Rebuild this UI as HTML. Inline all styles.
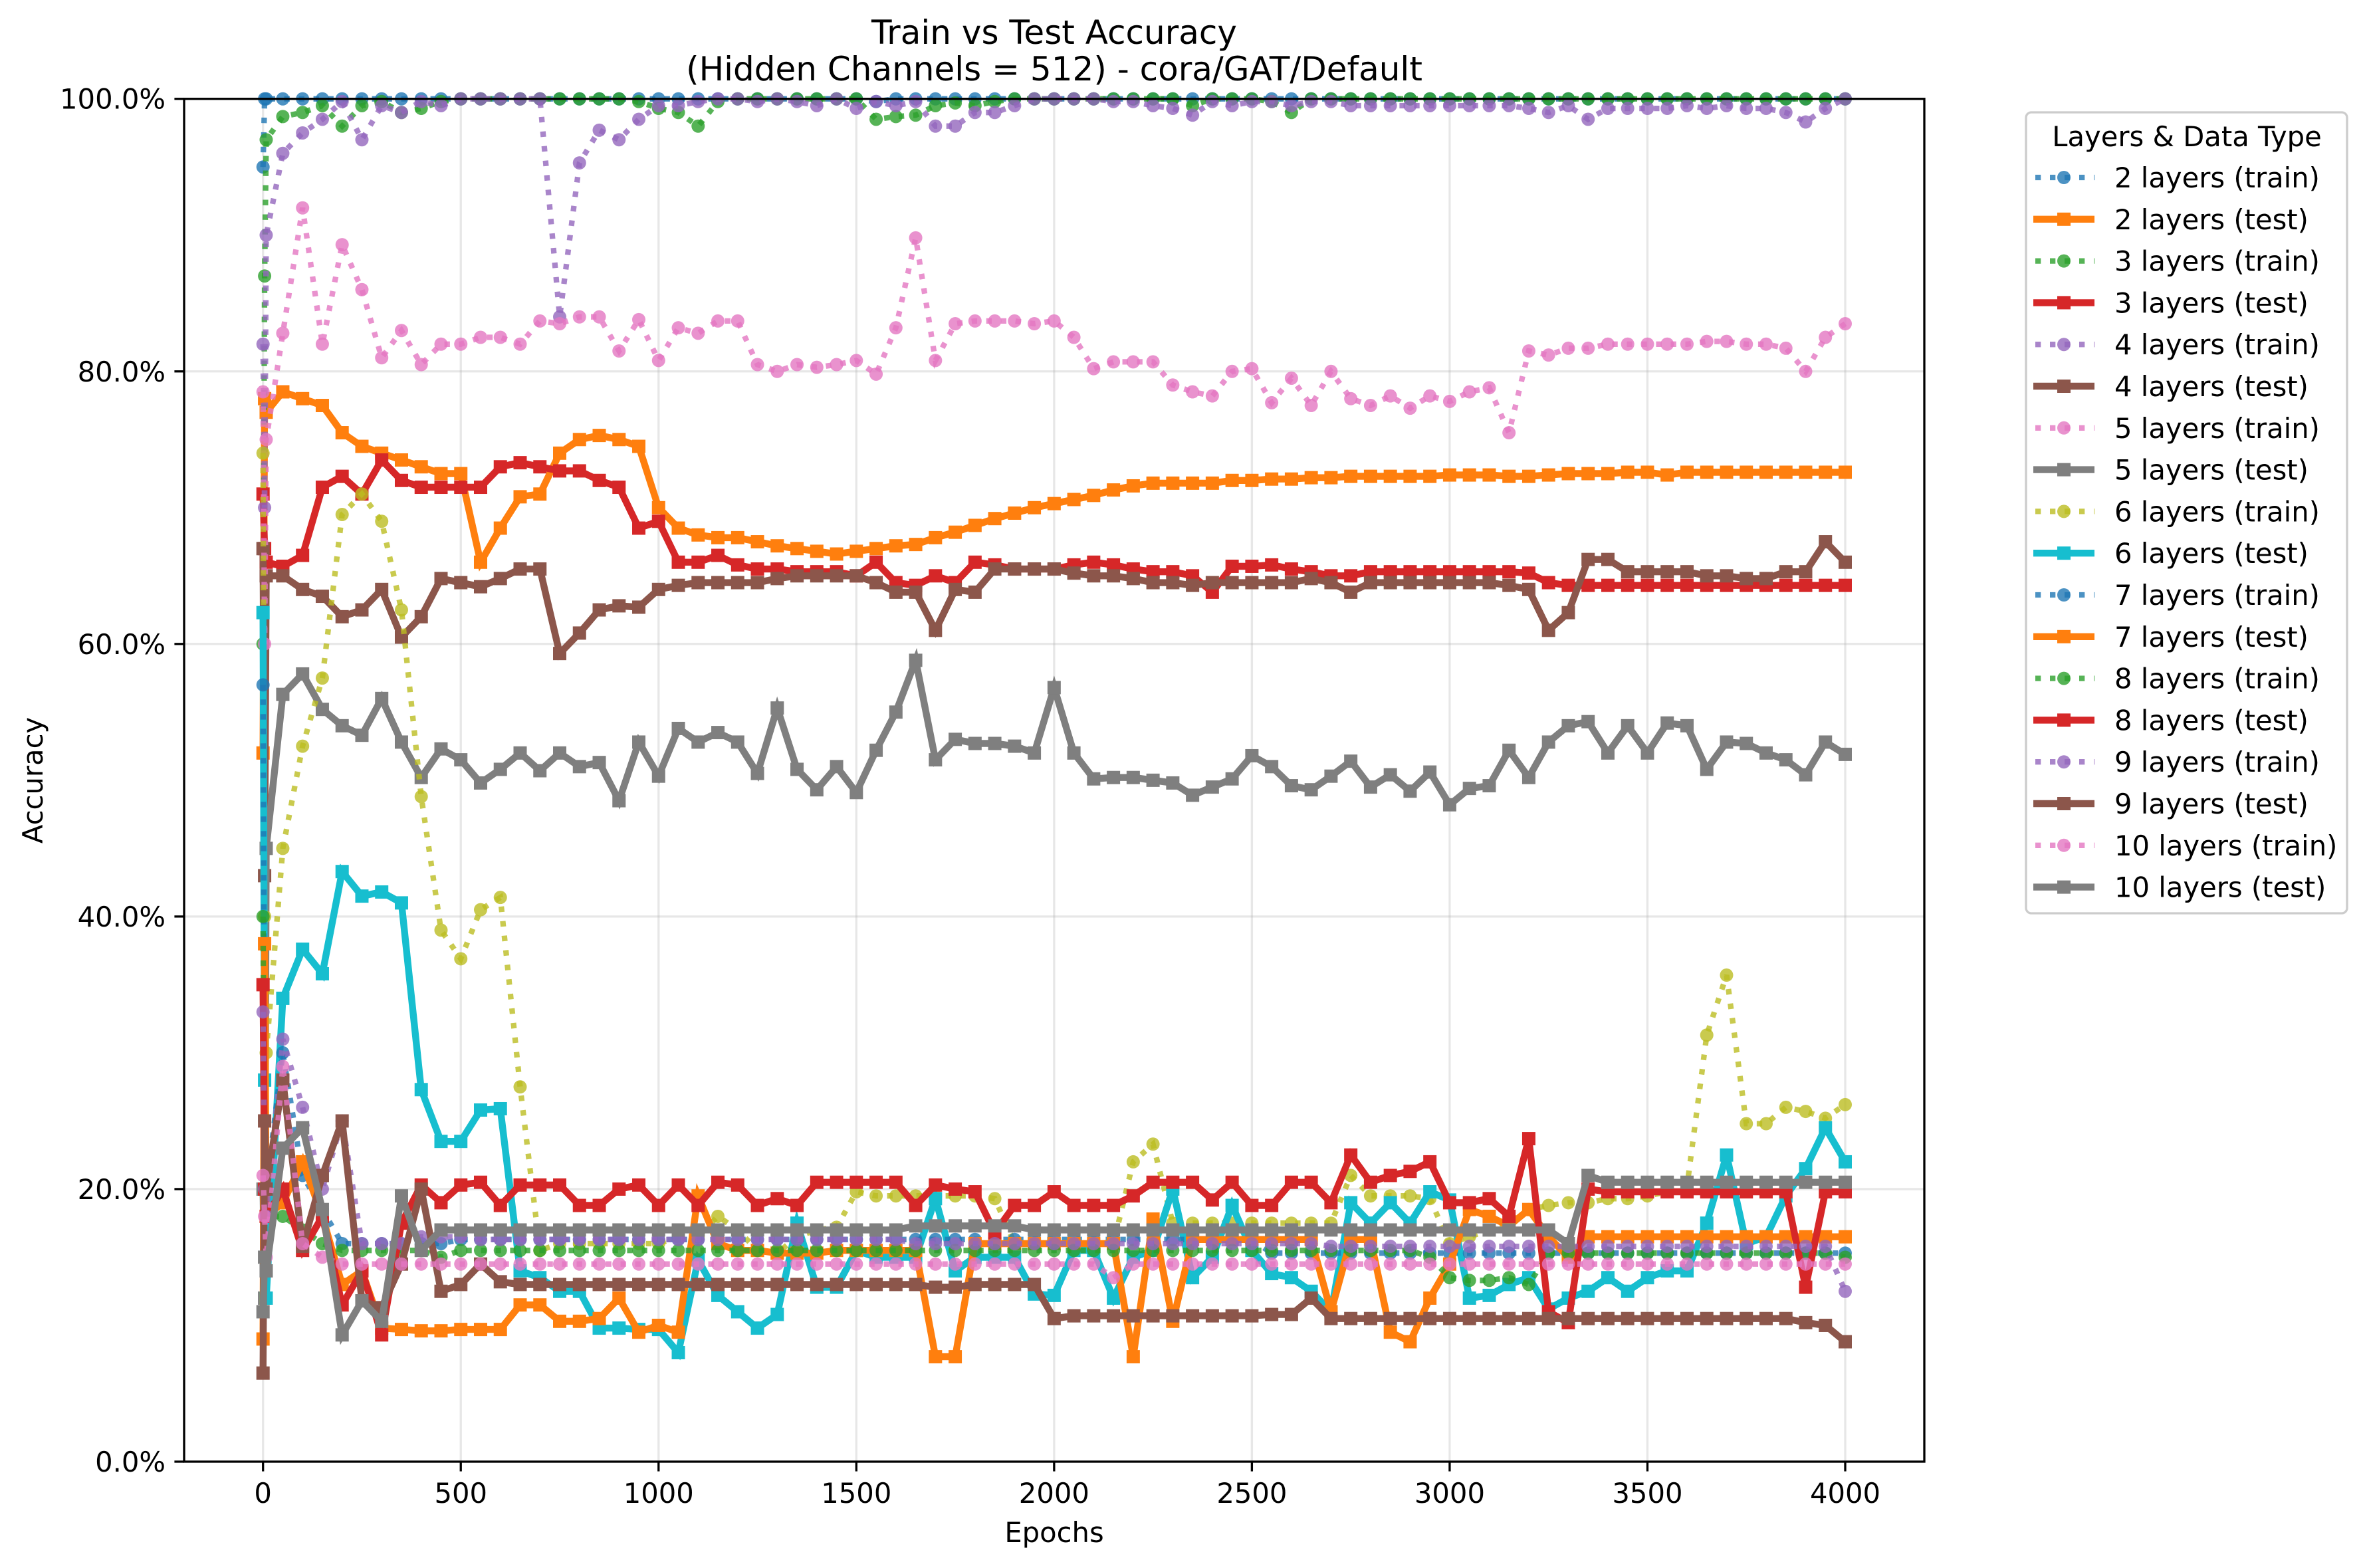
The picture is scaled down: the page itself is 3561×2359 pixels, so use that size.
<!DOCTYPE html>
<html><head><meta charset="utf-8"><style>
html,body{margin:0;padding:0;background:#fff;}
svg{display:block;font-family:"DejaVu Sans","Liberation Sans",sans-serif;}
</style></head><body>
<svg id="chart" xmlns="http://www.w3.org/2000/svg" width="3561" height="2359" viewBox="0 0 3561 2359">
<rect width="3561" height="2359" fill="#fff"/>
<g id="grid"></g>
<g id="series"></g>
<g id="axes"></g>
<text x="1586" y="66" font-size="50" text-anchor="middle">Train vs Test Accuracy</text>
<text x="1586" y="121" font-size="50" text-anchor="middle">(Hidden Channels = 512) - cora/GAT/Default</text>
<text x="1586" y="2320" font-size="41.7" text-anchor="middle">Epochs</text>
<text x="0" y="0" font-size="41.7" text-anchor="middle" transform="translate(64,1174) rotate(-90)">Accuracy</text>
<g id="legend"></g>
</svg>
<script>
const epochsEarly = [0, 4, 8];
const epochsStep = [50,100,150,200,250,300,350,400,450,500,550,600,650,700,750,800,850,900,950,1000,1050,1100,1150,1200,1250,1300,1350,1400,1450,1500,1550,1600,1650,1700,1750,1800,1850,1900,1950,2000,2050,2100,2150,2200,2250,2300,2350,2400,2450,2500,2550,2600,2650,2700,2750,2800,2850,2900,2950,3000,3050,3100,3150,3200,3250,3300,3350,3400,3450,3500,3550,3600,3650,3700,3750,3800,3850,3900,3950,4000];
const xTicks = [0,500,1000,1500,2000,2500,3000,3500,4000];
const yTicks = [0,20,40,60,80,100];
const seriesNames = ["2 layers (train)","2 layers (test)","3 layers (train)","3 layers (test)","4 layers (train)","4 layers (test)","5 layers (train)","5 layers (test)","6 layers (train)","6 layers (test)","7 layers (train)","7 layers (test)","8 layers (train)","8 layers (test)","9 layers (train)","9 layers (test)","10 layers (train)","10 layers (test)"];
const seriesColors = ["#1f77b4","#ff7f0e","#2ca02c","#d62728","#9467bd","#8c564b","#e377c2","#7f7f7f","#bcbd22","#17becf","#1f77b4","#ff7f0e","#2ca02c","#d62728","#9467bd","#8c564b","#e377c2","#7f7f7f"];

const s2Train = [95,100,100, 100,100,100,100,100,100,100,100,100,100, 100,100,100,100,100,100,100,100,100,100, 100,100,100,100,100,100,100,100,100,100, 99.8,100,100,100,100,100,100,100,100,100, 100,100,100,100,100,100,100,100,100,100, 100,100,100,100,100,100,100,100,100,100, 100,100,100,100,100,100,100,100,100,100, 100,100,100,100,100,100,100,100,100,100];
const s2Test = [52,78,77, 78.5,78,77.5,75.5,74.5,74,73.5,73,72.5,72.5, 66,68.5,70.8,71,74,75,75.3,75,74.5,70, 68.5,68,67.8,67.8,67.5,67.2,67,66.8,66.6,66.8, 67,67.2,67.3,67.8,68.2,68.7,69.2,69.6,70,70.3, 70.6,70.9,71.3,71.6,71.8,71.8,71.8,71.8,72,72, 72.1,72.1,72.2,72.2,72.3,72.3,72.3,72.3,72.3,72.4, 72.4,72.4,72.3,72.3,72.4,72.5,72.5,72.5,72.6,72.6, 72.4,72.6,72.6,72.6,72.6,72.6,72.6,72.6,72.6,72.6];
const s3Train = [60,87,97, 98.7,99,99.5,98,99.5,99.8,99,99.3,99.8,100, 100,100,100,100,100,100,100,100,99.8,99.3, 99,98,99.8,100,100,100,100,100,100,100, 98.5,98.7,98.8,99.5,99.7,99.5,99.8,100,100,100, 100,100,100,100,100,100,99.5,100,100,100, 99.8,99,100,100,100,100,100,100,100,100, 100,100,100,100,100,100,100,100,100,100, 100,100,100,100,100,100,100,100,100,100];
const s3Test = [71,67,66, 65.7,66.5,71.5,72.3,71,73.5,72,71.5,71.5,71.5, 71.5,73,73.3,73,72.7,72.7,72,71.5,68.5,69, 66,66,66.5,65.8,65.5,65.5,65.3,65.3,65.3,65, 66,64.5,64.3,65,64.5,66,65.8,65.5,65.5,65.5, 65.8,66,65.8,65.5,65.3,65.3,65,63.8,65.7,65.7, 65.8,65.5,65.3,65,65,65.3,65.3,65.3,65.3,65.3, 65.3,65.3,65.3,65.2,64.5,64.3,64.3,64.3,64.3,64.3, 64.3,64.3,64.3,64.3,64.3,64.3,64.3,64.3,64.3,64.3];
const s4Train = [82,70,90, 96,97.5,98.5,99.8,97,99.5,99,99.8,99.5,100, 100,100,100,100,84,95.3,97.7,97,98.5,99.5, 99.5,99.8,100,100,99.8,100,99.8,99.5,100,99.3, 99.8,99.5,99.8,98,98,99,99,99.5,100,100, 100,100,99.8,99.8,99.5,99.3,98.8,99.8,99.5,99.8, 99.8,99.5,99.8,99.8,99.5,99.5,99.5,99.5,99.5,99.5, 99.5,99.5,99.5,99.3,99,99.5,98.5,99.3,99.3,99.3, 99.3,99.5,99.3,99.5,99.3,99.3,99,98.3,99.3,100];
const s4Test = [67,43,65, 65,64,63.5,62,62.5,64,60.5,62,64.8,64.5, 64.2,64.8,65.5,65.5,59.3,60.8,62.5,62.8,62.7,64, 64.3,64.5,64.5,64.5,64.5,64.8,65,65,65,65, 64.5,63.8,63.8,61,64,63.8,65.5,65.5,65.5,65.5, 65.2,65,65,64.8,64.5,64.5,64.3,64.5,64.5,64.5, 64.5,64.5,64.8,64.5,63.8,64.5,64.5,64.5,64.5,64.5, 64.5,64.5,64.3,64,61,62.3,66.2,66.2,65.3,65.3, 65.3,65.3,65,65,64.8,64.8,65.3,65.3,67.5,66];
const s5Train = [78.5,60,75, 82.8,92,82,89.3,86,81,83,80.5,82,82, 82.5,82.5,82,83.7,83.5,84,84,81.5,83.8,80.8, 83.2,82.8,83.7,83.7,80.5,80,80.5,80.3,80.5,80.8, 79.8,83.2,89.8,80.8,83.5,83.7,83.7,83.7,83.5,83.7, 82.5,80.2,80.7,80.7,80.7,79,78.5,78.2,80,80.2, 77.7,79.5,77.5,80,78,77.5,78.2,77.3,78.2,77.8, 78.5,78.8,75.5,81.5,81.2,81.7,81.7,82,82,82, 82,82,82.2,82.2,82,82,81.7,80,82.5,83.5];
const s5Test = [20,12,45, 56.3,57.8,55.2,54,53.3,56,52.8,50.2,52.3,51.5, 49.8,50.8,52,50.7,52,51,51.3,48.5,52.8,50.3, 53.8,52.8,53.5,52.8,50.5,55.3,50.8,49.3,51,49.1, 52.2,55,58.8,51.5,53,52.7,52.7,52.5,52,56.8, 52,50.1,50.2,50.2,50,49.8,48.9,49.5,50.1,51.8, 51,49.6,49.3,50.3,51.4,49.5,50.4,49.2,50.6,48.2, 49.4,49.6,52.2,50.2,52.8,54,54.3,52,54,52, 54.2,54,50.8,52.8,52.7,52,51.5,50.4,52.8,51.9];
const s6Train = [74,40,30, 45,52.5,57.5,69.5,71,69,62.5,48.8,39,36.9, 40.5,41.4,27.5,15.5,16,16,16,16,16,16, 16.5,16.5,18,17,15.5,15.3,16.5,17,17.2,19.8, 19.5,19.5,19.5,19.5,19.5,19.5,19.3,16,16,16, 16,16,16,22,23.3,17.5,17.5,17.5,17.5,17.5, 17.5,17.5,17.5,17.5,21,19.5,19.5,19.5,19.3,16, 16.5,17,17.5,18.5,18.8,19,19,19.3,19.3,19.5, 19.8,20.2,31.3,35.7,24.8,24.8,26,25.7,25.2,26.2];
const s6Test = [62.3,28,12, 34,37.6,35.8,43.3,41.5,41.8,41,27.3,23.5,23.5, 25.8,25.9,14,13.5,12.5,12.5,9.8,9.8,9.7,9.7, 8,14.8,12.2,11,9.8,10.8,17.5,12.8,12.8,15.5, 15,15,15,19.3,14,15,15,15,12.3,12.2, 15.5,15.5,12,15,15.5,20,13.5,15,18.8,15.5, 13.8,13.5,12.5,11,19,17.5,19,17.5,19.8,19.2, 12,12.2,13,13.5,11.2,12,12.5,13.5,12.5,13.5, 14,14,17.5,22.5,16,16.5,19.5,21.5,24.5,22];
const s7Train = [57,25,20, 30,21,18.5,16,16,16,16,16,16,16.3, 16.3,16.3,16.3,16.3,16.3,16.3,16.3,16.3,16.3,16.3, 16.3,16.3,16.3,16.3,16.3,16.3,16.3,16.3,16.3,16.3, 16.3,16.3,16.3,16.3,16.3,16.3,16.3,16.3,16.3,16.3, 16.3,16.3,16.3,16.3,16.3,16.3,16.3,16.3,16.3,16.3, 15.3,15.3,15.3,15.3,15.3,15.3,15.3,15.3,15.3,15.3, 15.3,15.3,15.3,15.3,15.3,15.3,15.3,15.3,15.3,15.3, 15.3,15.3,15.3,15.3,15.3,15.3,15.3,15.3,15.3,15.3];
const s7Test = [9,38,18, 19,22,18,13,14,9.8,9.7,9.6,9.6,9.7, 9.7,9.7,11.5,11.5,10.3,10.3,10.5,12,9.5,10, 9.5,19.5,16,15.5,15.5,15.3,15.3,15.3,15.5,15.5, 15.5,15.5,15.5,7.7,7.7,16,16,16,16,16, 16,16,16,7.7,17.8,10.3,16.3,16.3,16.3,16.3, 16.3,16.3,16.3,11,16.3,16.3,9.5,8.8,12,14.5, 18.5,18,17.3,18.5,16.5,15,16.5,16.5,16.5,16.5, 16.5,16.5,16.5,16.5,16.5,16.5,16.5,16.5,16.5,16.5];
const s8Train = [40,20,18, 18,17,16,15.5,15.5,15.5,15.5,15.5,15,15.5, 15.5,15.5,15.5,15.5,15.5,15.5,15.5,15.5,15.5,15.5, 15.5,15.5,15.5,15.5,15.5,15.5,15.5,15.5,15.5,15.5, 15.5,15.5,15.5,15.5,15.5,15.5,15.5,15.5,15.5,15.5, 15.5,15.5,15.5,15.5,15.5,15.5,15.5,15.5,15.5,15.5, 15.5,15.5,15.5,15.5,15.5,15.5,15.5,15.5,15,13.5, 13.3,13.3,13.5,13,15.3,15.3,15.3,15.3,15.3,15.3, 15.3,15.3,15.3,15.3,15.3,15.3,15.3,15.3,15.3,15];
const s8Test = [35,20,18, 20,15.5,18,11.5,14,9.3,17.5,20.3,19,20.3, 20.5,18.8,20.3,20.3,20.3,18.8,18.8,20,20.3,18.8, 20.3,18.8,20.5,20.3,18.8,19.3,18.8,20.5,20.5,20.5, 20.5,20.5,18.8,20.3,20,19.8,16.8,18.8,18.8,19.8, 18.8,18.8,18.8,19.5,20.5,20.5,20.5,19.2,20.5,18.8, 18.8,20.5,20.5,19,22.5,20.5,21,21.3,22,19, 19,19.3,18,23.7,11,10.2,20,19.8,19.8,19.8, 19.8,19.8,19.8,19.8,19.8,19.8,19.8,12.8,19.8,19.8];
const s9Train = [33,20,18, 31,26,20,25,16,16,16,16.5,16.5,16.5, 16.3,16.3,16.3,16.3,16.3,16.3,16.3,16.3,16.3,16.3, 16.3,16.3,16.3,16.3,16.3,16.3,16.3,16.3,16.3,16.3, 16.3,16.3,16,16,16,16,16,16,16,16, 16,16,16,16,16,16,16,16,16,16, 16,16,16,15.8,15.8,15.8,15.8,15.8,15.8,15.8, 15.8,15.8,15.8,15.8,15.8,15.8,15.8,15.8,15.8,15.8, 15.8,15.8,15.8,15.8,15.8,15.8,15.8,15.8,15.8,12.5];
const s9Test = [6.5,25,20, 28,15.8,21,25,11.8,11.3,14.5,20,12.5,13, 14.5,13.2,13,13,13,13,13,13,13,13, 13,13,13,13,13,13,13,13,13,13, 13,13,13,12.8,12.8,13,13,13,13,10.5, 10.7,10.7,10.7,10.7,10.7,10.7,10.7,10.7,10.7,10.7, 10.8,10.8,12,10.5,10.5,10.5,10.5,10.5,10.5,10.5, 10.5,10.5,10.5,10.5,10.5,10.5,10.5,10.5,10.5,10.5, 10.5,10.5,10.5,10.5,10.5,10.5,10.5,10.2,10,8.8];
const s10Train = [21,18,15, 29,16,15,14.5,14.5,14.5,14.5,14.5,14.5,14.5, 14.5,14.5,14.5,14.5,14.5,14.5,14.5,14.5,14.5,14.5, 14.5,14.5,14.5,14.5,14.5,14.5,14.5,14.5,14.5,14.5, 14.5,14.5,14.5,14.5,14.5,14.5,14.5,14.5,14.5,14.5, 14.5,14.5,13.5,14.5,14.5,14.5,14.5,14.5,14.5,14.5, 14.5,14.5,14.5,14.5,14.5,14.5,14.5,14.5,14.5,14.5, 14.5,14.5,14.5,14.5,14.5,14.5,14.5,14.5,14.5,14.5, 14.5,14.5,14.5,14.5,14.5,14.5,14.5,14.5,14.5,14.5];
const s10Test = [11,15,14, 23,24.5,18.5,9.3,11.8,10.3,19.5,15.5,17,17, 17,17,17,17,17,17,17,17,17,17, 17,17,17,17,17,17,17,17,17,17, 17,17,17.3,17.3,17.3,17.3,17.3,17.3,17,17, 17,17,17,17,17,17,17,17,17,17, 17,17,17,17,17,17,17,17,17,17, 17,17,17,17,17,16,21,20.5,20.5,20.5, 20.5,20.5,20.5,20.5,20.5,20.5,20.5,20.5,20.5,20.5];

const seriesValues = [s2Train,s2Test,s3Train,s3Test,s4Train,s4Test,s5Train,s5Test,s6Train,s6Test,s7Train,s7Test,s8Train,s8Test,s9Train,s9Test,s10Train,s10Test];

const NS = "http://www.w3.org/2000/svg";
const PL = 277, PR = 2895, PT = 148.7, PB = 2199;
const X0 = 395.7, X1 = 2776;
function xScale(e){ return X0 + (X1 - X0) * e / 4000; }
function yScale(p){ return PB - (PB - PT) * p / 100; }
function mk(tag, attrs, parent){ const el = document.createElementNS(NS, tag); for (const k in attrs) el.setAttribute(k, attrs[k]); parent.appendChild(el); return el; }
const allEpochs = epochsEarly.concat(epochsStep);

const grid = document.getElementById('grid');
xTicks.forEach(t => {
  const g = mk('line', {x1:xScale(t), x2:xScale(t), y1:PT, y2:PB, stroke:'#b0b0b0', 'stroke-opacity':0.3, 'stroke-width':3.3}, grid);
  
  
});
yTicks.forEach(t => {
  const g = mk('line', {x1:PL, x2:PR, y1:yScale(t), y2:yScale(t), stroke:'#b0b0b0', 'stroke-opacity':0.3, 'stroke-width':3.3}, grid);
  
  
});

const sg = document.getElementById('series');
seriesValues.forEach((vals, i) => {
  const isTrain = i % 2 === 0;
  const col = seriesColors[i];
  const g = mk('g', {}, sg);
  
  
  const pts = vals.map((v, k) => xScale(allEpochs[k]).toFixed(1) + ',' + yScale(v).toFixed(1)).join(' ');
  if (isTrain) {
    mk('polyline', {points:pts, fill:'none', stroke:col, 'stroke-width':8.3, 'stroke-dasharray':'8.3 13.7', 'stroke-opacity':0.8}, g);
  } else {
    mk('polyline', {points:pts, fill:'none', stroke:col, 'stroke-width':10.4, 'stroke-linejoin':'miter'}, g);
  }
  vals.forEach((v, k) => {
    const cx = xScale(allEpochs[k]), cy = yScale(v);
    let m;
    if (isTrain) m = mk('circle', {cx:cx, cy:cy, r:10, fill:col, 'fill-opacity':0.8}, g);
    else m = mk('rect', {x:cx-10, y:cy-10, width:20, height:20, fill:col}, g);
    
    
  });
});

const ax = document.getElementById('axes');
mk('rect', {x:PL, y:PT, width:PR-PL, height:PB-PT, fill:'none', stroke:'#000', 'stroke-width':3.3}, ax);
xTicks.forEach(t => {
  mk('line', {x1:xScale(t), x2:xScale(t), y1:PB, y2:PB+14.6, stroke:'#000', 'stroke-width':3.3}, ax);
  const tx = mk('text', {x:xScale(t), y:PB+62, 'font-size':41.7, 'text-anchor':'middle'}, ax);
  tx.textContent = String(t);
  
  
});
yTicks.forEach(t => {
  mk('line', {x1:PL-14.6, x2:PL, y1:yScale(t), y2:yScale(t), stroke:'#000', 'stroke-width':3.3}, ax);
  const tx = mk('text', {x:PL-28, y:yScale(t)+15, 'font-size':41.7, 'text-anchor':'end'}, ax);
  tx.textContent = t.toFixed(1) + '%';
  
  
});

const lg = document.getElementById('legend');
mk('rect', {x:3048, y:169, width:483, height:1205, rx:8, fill:'#fff', 'fill-opacity':0.8, stroke:'#cccccc', 'stroke-width':3.3}, lg);
const lt = mk('text', {x:3290, y:220, 'font-size':41.7, 'text-anchor':'middle'}, lg);
lt.textContent = 'Layers & Data Type';


seriesNames.forEach((nm, i) => {
  const isTrain = i % 2 === 0;
  const col = seriesColors[i];
  const cy = 267 + i * 62.8;
  const e = mk('g', {}, lg);
  
  
  if (isTrain) {
    mk('line', {x1:3062, x2:3151, y1:cy, y2:cy, stroke:col, 'stroke-width':8.3, 'stroke-dasharray':'8.3 13.7', 'stroke-opacity':0.8}, e);
    mk('circle', {cx:3105, cy:cy, r:10, fill:col, 'fill-opacity':0.8}, e);
  } else {
    mk('line', {x1:3059, x2:3151, y1:cy, y2:cy, stroke:col, 'stroke-width':10.4}, e);
    mk('rect', {x:3095, y:cy-10, width:20, height:20, fill:col}, e);
  }
  const t = mk('text', {x:3181, y:cy+15, 'font-size':41.7}, e);
  t.textContent = nm;
});
</script>
</body></html>
